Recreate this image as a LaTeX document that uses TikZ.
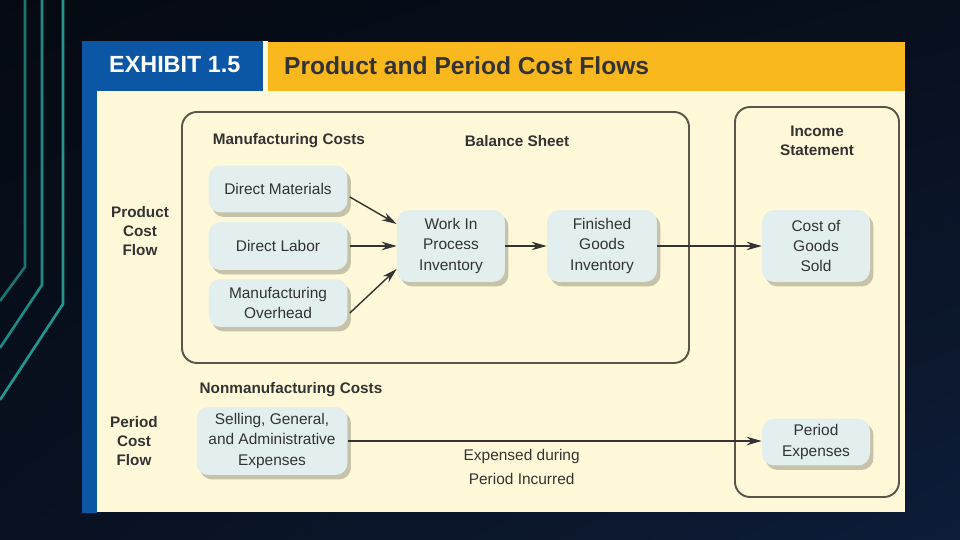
\documentclass[tikz,border=0pt]{standalone}
\usepackage{fontspec}
\setmainfont{Liberation Sans}
\usetikzlibrary{arrows.meta,positioning,shadows,shadings}
\definecolor{slatebg}{HTML}{050A12}
\definecolor{navybg}{HTML}{0E1C38}
\definecolor{tealA}{HTML}{1C756F}
\definecolor{tealB}{HTML}{1F8B86}
\definecolor{tealC}{HTML}{23968F}
\definecolor{exblue}{HTML}{0B57A6}
\definecolor{exorange}{HTML}{F9B81E}
\definecolor{cream}{HTML}{FFF9DA}
\definecolor{boxfill}{HTML}{E3EFEF}
\definecolor{ink}{HTML}{333333}
\definecolor{rimgray}{HTML}{5A564A}
\tikzset{
  cbox/.style={rectangle,rounded corners=2.4mm,fill=boxfill,align=center,text=ink,
    font=\fontsize{8.8}{11.6}\selectfont,inner sep=2pt,
    drop shadow={shadow xshift=0.7mm,shadow yshift=-0.9mm,opacity=0.22,fill=black}},
  hdr/.style={align=center,text=ink,font=\bfseries\fontsize{8.7}{11}\selectfont},
  rim/.style={draw=rimgray,line width=1.1pt,rounded corners=3mm},
  de/.style={-{Stealth[length=3mm,width=1.7mm]},line width=0.8pt,draw=ink}
}
\begin{document}
\begin{tikzpicture}[x=0.02cm,y=-0.02cm]
\useasboundingbox (0,0) rectangle (960,540);
% backdrop
\shade[upper left=slatebg,lower right=navybg,upper right=slatebg!70!navybg,lower left=slatebg!60!navybg] (0,0) rectangle (960,540);
\draw[tealA,line width=1.5pt] (25,0) -- (25,267) -- (0,301);
\draw[tealB,line width=1.5pt] (42,0) -- (42,285) -- (0,348);
\draw[tealC,line width=1.5pt] (63,0) -- (63,304) -- (0,400);
% exhibit panel
\fill[exblue] (82,41) rectangle (97,513);
\fill[cream] (97,91) rectangle (905,512);
\fill[cream] (263,41) rectangle (268,91);
\fill[exblue] (82,41) rectangle (263,91);
\fill[exorange] (268,42) rectangle (905,91);
\node[anchor=west,text=white,font=\bfseries\fontsize{13.3}{15}\selectfont] (exno) at (103,65) {EXHIBIT 1.5};
\node[anchor=west,text=ink,font=\bfseries\fontsize{14}{16}\selectfont] (title) at (278,66) {Product and Period Cost Flows};
% frames
\draw[rim] (182,112) rectangle (689,363);
\draw[rim] (735,107) rectangle (899,497);
% headings
\node[hdr] (mfg) at (289,141) {Manufacturing Costs};
\node[hdr] (bs) at (517,141) {Balance Sheet};
\node[hdr] (is) at (817,141) {Income\\Statement};
\node[hdr] (pcf) at (140,231) {Product\\Cost\\Flow};
\node[hdr] (nonmfg) at (291,390) {Nonmanufacturing Costs};
\node[hdr] (perf) at (134,441) {Period\\Cost\\Flow};
% cost boxes
\node[cbox,minimum width=2.78cm,minimum height=0.94cm] (dm) at (278,189) {Direct Materials};
\node[cbox,minimum width=2.78cm,minimum height=0.96cm] (dl) at (278,246) {Direct Labor};
\node[cbox,minimum width=2.78cm,minimum height=0.96cm] (moh) at (278,303) {Manufacturing\\Overhead};
\node[cbox,minimum width=2.16cm,minimum height=1.44cm] (wip) at (451,246) {Work In\\Process\\Inventory};
\node[cbox,minimum width=2.2cm,minimum height=1.44cm] (fg) at (602,246) {Finished\\Goods\\Inventory};
\node[cbox,minimum width=2.16cm,minimum height=1.44cm] (cogs) at (816,246) {Cost of\\Goods\\Sold};
\node[cbox,minimum width=3.02cm,minimum height=1.36cm] (sga) at (272,441) {Selling, General,\\and Administrative\\Expenses};
\node[cbox,minimum width=2.16cm,minimum height=0.94cm] (pe) at (816,442) {Period\\Expenses};
% flows
\draw[de] (dm.east) ++(2,8) -- (wip.west |- 0,224);
\draw[de] (dl.east) ++(2,0) -- (wip.west |- dl.east);
\draw[de] (moh.east) ++(2,10) -- (wip.west |- 0,269);
\draw[de] (wip) -- (fg);
\draw[de] (fg) -- (cogs);
\draw[de] (sga.east |- 0,441) -- (pe.west |- 0,441)
  node[pos=0.42,below=1pt,text=ink,align=center,font=\fontsize{8.8}{13.6}\selectfont] (exp) {Expensed during\\Period Incurred};
\end{tikzpicture}
\end{document}
